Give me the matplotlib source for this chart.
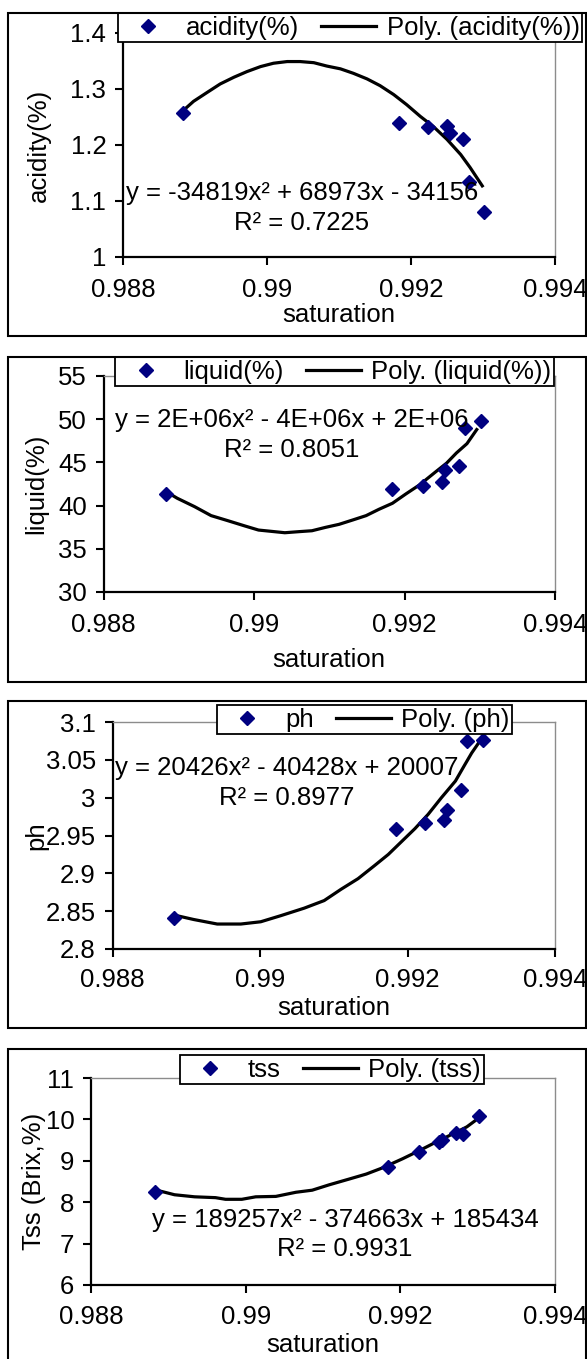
import matplotlib
matplotlib.use("Agg")
import matplotlib.pyplot as plt
from matplotlib.patches import Rectangle

plt.rcParams['font.family'] = ['Liberation Sans', 'DejaVu Sans']

W, H = 587, 1359   # output size in pixels (dpi 100)
FS = 18.5          # font size used everywhere (pt)

# ---- data ----
saturation = [0.98883, 0.99184, 0.99224, 0.99250, 0.99254, 0.99272, 0.99281, 0.99302]

acidity = [1.257, 1.240, 1.233, 1.234, 1.222, 1.211, 1.134, 1.080]
liquid = [41.4, 41.9, 42.3, 42.7, 44.1, 44.6, 49.0, 49.8]
ph = [2.841, 2.959, 2.967, 2.970, 2.984, 3.010, 3.075, 3.076]
tss = [8.24, 8.86, 9.21, 9.45, 9.50, 9.66, 9.64, 10.09]

# polynomial trendlines as drawn in the picture
acid_fit_x = [0.98884, 0.98898, 0.98917, 0.98935, 0.98954, 0.98972, 0.98991, 0.99009,
              0.99028, 0.99046, 0.99065, 0.99083, 0.99102, 0.99120, 0.99139, 0.99157,
              0.99176, 0.99194, 0.99213, 0.99231, 0.99250, 0.99269, 0.99282, 0.99299]
acid_fit_y = [1.262, 1.278, 1.294, 1.309, 1.321, 1.331, 1.340, 1.346,
              1.349, 1.349, 1.347, 1.341, 1.336, 1.328, 1.318, 1.306,
              1.290, 1.272, 1.251, 1.233, 1.210, 1.183, 1.160, 1.127]

liq_fit_x = [0.98883, 0.98898, 0.98921, 0.98943, 0.98965, 0.98988, 0.99006, 0.99023,
             0.99041, 0.99059, 0.99077, 0.99095, 0.99113, 0.99131, 0.99149, 0.99166,
             0.99184, 0.99202, 0.99220, 0.99242, 0.99256, 0.99269, 0.99283, 0.99296]
liq_fit_y = [41.63, 40.85, 39.88, 38.84, 38.26, 37.64, 37.17, 37.02,
             36.86, 36.98, 37.09, 37.48, 37.83, 38.33, 38.84, 39.57,
             40.27, 41.36, 42.40, 43.95, 44.92, 46.09, 47.17, 48.80]

ph_fit_x = [0.98883, 0.98910, 0.98942, 0.98974, 0.99001, 0.99028, 0.99060, 0.99087,
            0.99110, 0.99133, 0.99155, 0.99174, 0.99192, 0.99210, 0.99228, 0.99246,
            0.99265, 0.99278, 0.99287, 0.99299]
ph_fit_y = [2.845, 2.839, 2.833, 2.833, 2.836, 2.844, 2.854, 2.864,
            2.879, 2.893, 2.910, 2.925, 2.942, 2.959, 2.978, 3.000,
            3.022, 3.044, 3.059, 3.076]

tss_fit_x = [0.98885, 0.98908, 0.98934, 0.98961, 0.98974, 0.98995, 0.99013, 0.99039,
             0.99065, 0.99086, 0.99108, 0.99134, 0.99156, 0.99177, 0.99203, 0.99225,
             0.99247, 0.99269, 0.99286, 0.99299]
tss_fit_y = [8.29, 8.18, 8.13, 8.11, 8.07, 8.07, 8.13, 8.14,
             8.24, 8.29, 8.42, 8.56, 8.68, 8.83, 9.05, 9.25,
             9.46, 9.66, 9.82, 10.00]

x_ticks = [0.988, 0.990, 0.992, 0.994]
x_tick_labels = ['0.988', '0.99', '0.992', '0.994']

acid_ticks = [1.0, 1.1, 1.2, 1.3, 1.4]
acid_tick_labels = ['1', '1.1', '1.2', '1.3', '1.4']
liq_ticks = [30, 35, 40, 45, 50, 55]
liq_tick_labels = ['30', '35', '40', '45', '50', '55']
ph_ticks = [2.8, 2.85, 2.9, 2.95, 3.0, 3.05, 3.1]
ph_tick_labels = ['2.8', '2.85', '2.9', '2.95', '3', '3.05', '3.1']
tss_ticks = [6, 7, 8, 9, 10, 11]
tss_tick_labels = ['6', '7', '8', '9', '10', '11']

series_names = ['acidity(%)', 'liquid(%)', 'ph', 'tss']
y_titles = ['acidity(%)', 'liquid(%)', 'ph', 'Tss (Brix,%)']
equations = ['y = -34819x² + 68973x - 34156',
             'y = 2E+06x² - 4E+06x + 2E+06',
             'y = 20426x² - 40428x + 20007',
             'y = 189257x² - 374663x + 185434']
r_squared = ['R² = 0.7225', 'R² = 0.8051', 'R² = 0.8977', 'R² = 0.9931']

values = [acidity, liquid, ph, tss]
fits_x = [acid_fit_x, liq_fit_x, ph_fit_x, tss_fit_x]
fits_y = [acid_fit_y, liq_fit_y, ph_fit_y, tss_fit_y]
y_ticks = [acid_ticks, liq_ticks, ph_ticks, tss_ticks]
y_tick_labels = [acid_tick_labels, liq_tick_labels, ph_tick_labels, tss_tick_labels]

# ---- layout in pixels ----
outer_boxes = [(8, 13, 585.5, 336), (8, 357, 585.5, 682), (8, 701, 585.5, 1028), (8, 1049, 585.5, 1375)]
plot_boxes = [(123, 33, 555, 257), (103.5, 376, 555, 592), (112.5, 722, 555, 949), (91, 1078, 555, 1285)]
legend_corner = [(118, 13), (115.5, 357), (217, 705), (180, 1055)]
ylabel_x = [39, 36, 36, 34]
xticklabel_y = [290, 625, 980, 1317]
xlabel_y = [315, 660, 1008, 1345]
eq_pos = [(302, 193, 223), (292, 420, 450), (287, 768, 798), (345, 1220, 1249)]


def fx(x):
    return x / W


def fy(y):
    return 1 - y / H


fig = plt.figure(figsize=(W / 100, H / 100), dpi=100)
fig.patch.set_facecolor('white')

for i in range(4):
    bx0, by0, bx1, by1 = outer_boxes[i]
    fig.patches.append(Rectangle((fx(bx0), fy(by1)), (bx1 - bx0) / W, (by1 - by0) / H,
                                 transform=fig.transFigure, fill=False,
                                 edgecolor='black', linewidth=1.5))

    x0, y0, x1, y1 = plot_boxes[i]
    ax = fig.add_axes([fx(x0), fy(y1), (x1 - x0) / W, (y1 - y0) / H])

    ln, = ax.plot(fits_x[i], fits_y[i], color='black', linewidth=2.3, zorder=2)
    pts, = ax.plot(saturation, values[i], linestyle='none', marker='D', markersize=7.5,
                   color='#000080', zorder=3, clip_on=False)

    ax.set_xlim(0.988, 0.994)
    ax.set_xticks(x_ticks)
    ax.set_xticklabels(x_tick_labels)
    ax.set_ylim(y_ticks[i][0], y_ticks[i][-1])
    ax.set_yticks(y_ticks[i])
    ax.set_yticklabels(y_tick_labels[i])

    for side in ['left', 'bottom']:
        ax.spines[side].set_color('black')
        ax.spines[side].set_linewidth(1.6)
    for side in ['top', 'right']:
        ax.spines[side].set_color('#8c8c8c')
        ax.spines[side].set_linewidth(1.0)

    ax.tick_params(axis='both', direction='out', length=6, width=1.5, labelsize=FS)
    ax.tick_params(axis='y', pad=6)
    xpad = (xticklabel_y[i] - y1 - 6 * 100 / 72 - 12) * 72 / 100
    ax.tick_params(axis='x', pad=xpad)

    ax.set_xlabel('saturation', fontsize=FS)
    ax.xaxis.label.set_va('center')
    ax.xaxis.set_label_coords(0.5, (y1 - xlabel_y[i]) / (y1 - y0))
    ax.set_ylabel(y_titles[i], fontsize=FS)
    ax.yaxis.label.set_va('center')
    ax.yaxis.set_label_coords((ylabel_x[i] - x0) / (x1 - x0), 0.5)

    lx, ly = legend_corner[i]
    leg = ax.legend([pts, ln], [series_names[i], 'Poly. (' + series_names[i] + ')'],
                    ncol=2, loc='upper left', bbox_to_anchor=(fx(lx), fy(ly)),
                    bbox_transform=fig.transFigure, borderaxespad=0, fontsize=FS,
                    frameon=True, fancybox=False, framealpha=1, edgecolor='black',
                    borderpad=0.1, handlelength=2.15, handletextpad=0.4,
                    columnspacing=0.85, numpoints=1)
    leg.get_frame().set_linewidth(1.3)

    ex, ey1, ey2 = eq_pos[i]
    fig.text(fx(ex), fy(ey1), equations[i], ha='center', va='center', fontsize=FS)
    fig.text(fx(ex), fy(ey2), r_squared[i], ha='center', va='center', fontsize=FS)

fig.savefig('out.png', dpi=100, facecolor='white')
